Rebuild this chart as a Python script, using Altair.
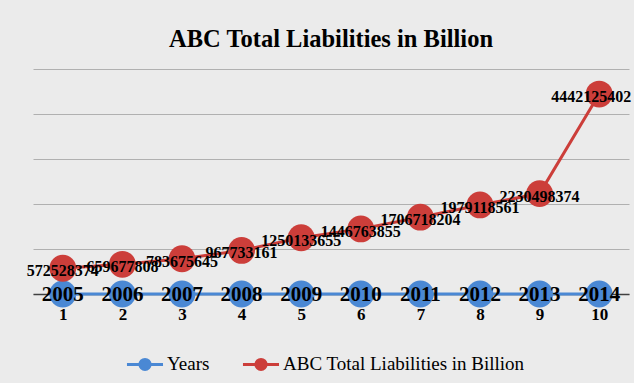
import altair as alt
import pandas as pd

categories = [1, 2, 3, 4, 5, 6, 7, 8, 9, 10]
years = [2005, 2006, 2007, 2008, 2009, 2010, 2011, 2012, 2013, 2014]
liabilities = [572528374, 659677808, 783675645, 967733161, 1250133655,
               1446763855, 1706718204, 1979118561, 2230498374, 4442125402]
grid_values = [0, 1000000000, 2000000000, 3000000000, 4000000000, 5000000000]
series_names = ["Years", "ABC Total Liabilities in Billion"]
series_colors = ["#4a88d4", "#cc3e3a"]

rows = []
for c, v in zip(categories, years):
    rows.append({"cat": c, "value": v, "series": series_names[0], "order": 0})
for c, v in zip(categories, liabilities):
    rows.append({"cat": c, "value": v, "series": series_names[1], "order": 1})
df = pd.DataFrame(rows)

SERIF = "Liberation Serif"
legend_path = "M-1,0L1,0M-0.28,0a0.28,0.28 0 1,0 0.56,0a0.28,0.28 0 1,0 -0.56,0"

color = alt.Color(
    "series:N",
    scale=alt.Scale(domain=series_names, range=series_colors),
    sort=series_names,
    legend=alt.Legend(
        title=None, orient="none", direction="horizontal",
        legendX=92, legendY=275,
        symbolType=legend_path, symbolSize=1300, symbolStrokeWidth=3,
        labelFont=SERIF, labelFontSize=19, labelColor="black",
        labelLimit=0, columnPadding=26, padding=0,
        labelOffset=2,
    ),
)

x = alt.X(
    "cat:O",
    scale=alt.Scale(type="point", padding=0.5),
    axis=alt.Axis(
        title=None, labelAngle=0, ticks=False, grid=False,
        domainColor="#404040", domainWidth=1.5,
        labelFont=SERIF, labelFontSize=17, labelFontWeight="bold",
        labelColor="black", labelPadding=12,
    ),
)
y = alt.Y(
    "value:Q",
    scale=alt.Scale(domain=[0, 5000000000], nice=False),
    axis=alt.Axis(
        title=None, labels=False, ticks=False, domain=False,
        values=grid_values, gridColor="#b0b0b0", gridWidth=1,
    ),
)

base = alt.Chart(df)

lines = base.mark_line(strokeWidth=3).encode(
    x=x, y=y, color=color, detail="series:N", order="cat:O"
)
points_blue = base.transform_filter(alt.datum.order == 0).mark_circle(
    size=720, opacity=1).encode(x=x, y=y, color=color)
points_red = base.transform_filter(alt.datum.order == 1).mark_circle(
    size=720, opacity=1).encode(x=x, y=y, color=color)

text_blue = base.transform_filter(alt.datum.order == 0).mark_text(
    font=SERIF, fontSize=21, fontWeight="bold", color="black", dy=1
).encode(x=x, y=y, text=alt.Text("value:Q", format="d"))

text_red = base.transform_filter(
    (alt.datum.order == 1) & (alt.datum.cat < 10)
).mark_text(
    font=SERIF, fontSize=16, fontWeight="bold", color="black", dy=3
).encode(x=x, y=y, text=alt.Text("value:Q", format="d"))

text_red_last = base.transform_filter(
    (alt.datum.order == 1) & (alt.datum.cat == 10)
).mark_text(
    font=SERIF, fontSize=16, fontWeight="bold", color="black", dy=3, dx=-8
).encode(x=x, y=y, text=alt.Text("value:Q", format="d"))

chart = alt.layer(
    lines, points_blue, points_red, text_blue, text_red, text_red_last
).properties(
    width=596, height=225,
    title=alt.TitleParams(
        "ABC Total Liabilities in Billion",
        font=SERIF, fontSize=24.5, fontWeight="bold", color="black",
        anchor="middle", offset=17,
    ),
    autosize=alt.AutoSizeParams(type="none"),
    padding={"left": 33, "top": 69, "right": 5, "bottom": 89},
).configure(
    background="#ebebeb",
).configure_view(
    stroke=None,
)

chart.save("out.html", embed_options={"renderer": "svg", "actions": False})
